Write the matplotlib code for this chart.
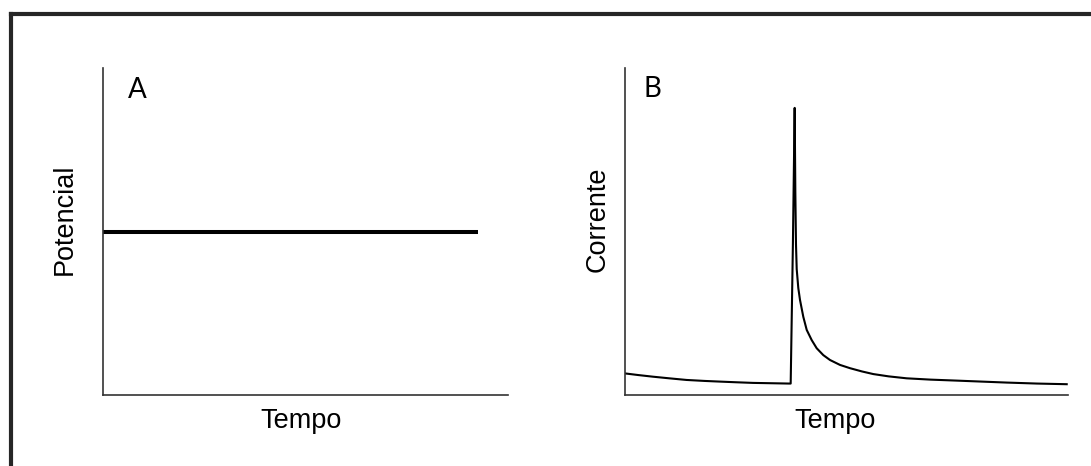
import numpy as np
import matplotlib
matplotlib.use("Agg")
import matplotlib.pyplot as plt
from matplotlib.lines import Line2D

# panel A: constant applied potential
potential_time = [0.0, 9.26]
potential_value = [0.50, 0.50]

# panel B: current response, slow decay, step, spike and relaxation
current_time = [0.00, 0.30, 0.63, 1.00, 1.39, 1.80, 2.14, 2.50, 2.89, 3.30, 3.70, 3.74,
                3.79, 3.83, 3.845, 3.86, 3.876, 3.912, 3.95, 4.025, 4.102, 4.214,
                4.327, 4.476, 4.628, 4.853, 5.079, 5.35, 5.605, 5.95, 6.359, 6.90,
                7.488, 8.05, 8.616, 9.30, 9.971]
current_value = [0.066, 0.061, 0.056, 0.051, 0.046, 0.043, 0.041, 0.039, 0.037, 0.036, 0.035, 0.035,
                 0.46, 0.878, 0.620, 0.460, 0.385, 0.327, 0.291, 0.239, 0.199, 0.168,
                 0.143, 0.122, 0.107, 0.092, 0.082, 0.072, 0.064, 0.057, 0.051, 0.047,
                 0.044, 0.041, 0.038, 0.035, 0.033]

panel_letters = ["A", "B"]
y_labels = ["Potencial", "Corrente"]
x_label = "Tempo"

plt.rcParams["font.family"] = ["Liberation Sans", "DejaVu Sans"]

W, H = 1091, 466
fig = plt.figure(figsize=(W / 100, H / 100), dpi=100)
fig.patch.set_facecolor("white")

def px_box(left, top, right, bottom):
    return [left / W, 1 - bottom / H, (right - left) / W, (bottom - top) / H]

ax_a = fig.add_axes(px_box(103, 68, 508, 395))
ax_b = fig.add_axes(px_box(625, 68, 1068, 395))

for ax in (ax_a, ax_b):
    ax.set_xlim(0, 10)
    ax.set_ylim(0, 1)
    ax.set_xticks([])
    ax.set_yticks([])
    for side in ("top", "right"):
        ax.spines[side].set_visible(False)
    for side in ("left", "bottom"):
        ax.spines[side].set_color("#333333")
        ax.spines[side].set_linewidth(1.2)

ax_a.plot(potential_time, potential_value, color="black", lw=2.9,
          solid_capstyle="butt", clip_on=False)
ax_b.plot(current_time, current_value, color="black", lw=1.5,
          solid_joinstyle="round")

# panel letters
ax_a.text(0.062, 0.972, panel_letters[0], transform=ax_a.transAxes, ha="left", va="top",
          fontsize=20, family=["Lato", "DejaVu Sans"])
ax_b.text(0.041, 0.975, panel_letters[1], transform=ax_b.transAxes, ha="left", va="top",
          fontsize=20, family=["Lato", "DejaVu Sans"])

# axis titles
ax_a.text(-0.095, 0.538, y_labels[0], transform=ax_a.transAxes, rotation=90,
          ha="center", va="center", fontsize=19.5)
ax_b.text(-0.061, 0.538, y_labels[1], transform=ax_b.transAxes, rotation=90,
          ha="center", va="center", fontsize=19.5)
ax_a.text(0.49, -0.08, x_label, transform=ax_a.transAxes, ha="center", va="center",
          fontsize=19.5)
ax_b.text(0.474, -0.08, x_label, transform=ax_b.transAxes, ha="center", va="center",
          fontsize=19.5)

# outer frame, only top and left edges fall inside the canvas
frame_kw = dict(color="#262626", lw=3.0, transform=fig.transFigure, solid_capstyle="projecting")
fig.add_artist(Line2D([10.5 / W, 10.5 / W], [0, 1 - 14 / H], **frame_kw))
fig.add_artist(Line2D([10.5 / W, 1.0], [1 - 14 / H, 1 - 14 / H], **frame_kw))

fig.savefig("out.png", dpi=100)
